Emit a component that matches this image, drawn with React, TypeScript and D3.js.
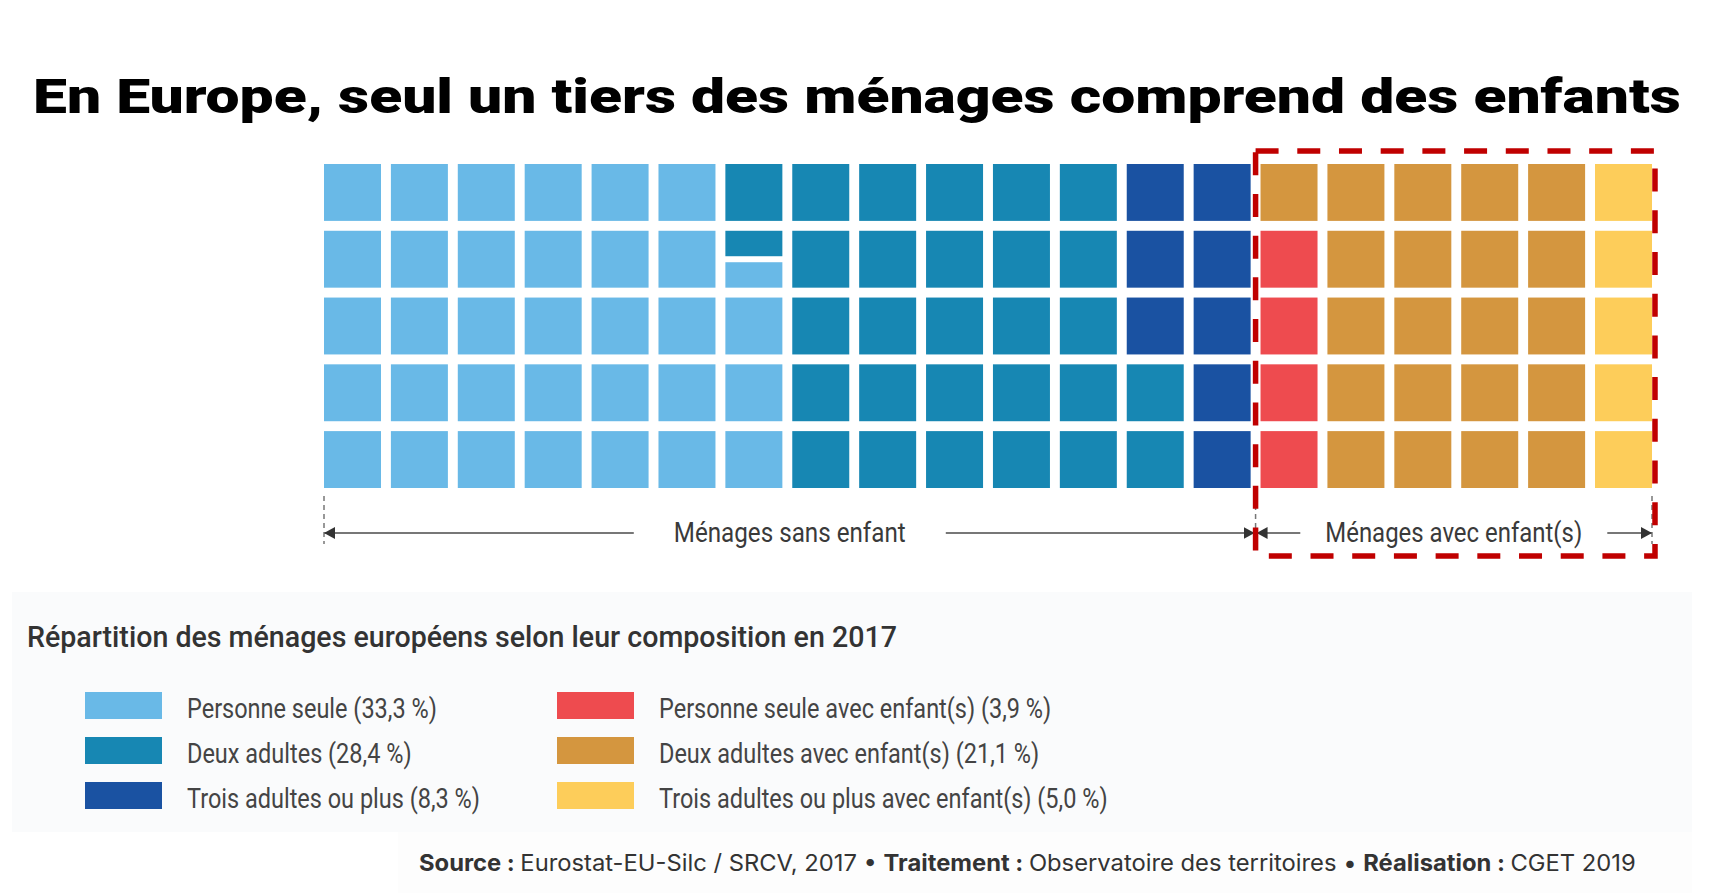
import { useEffect, useRef } from 'react';
import * as d3 from 'd3';

const W = 1717;
const H = 893;

const title = 'En Europe, seul un tiers des ménages comprend des enfants';
const subtitle = 'Répartition des ménages européens selon leur composition en 2017';

const categories = [
  'Personne seule',
  'Deux adultes',
  'Trois adultes ou plus',
  'Personne seule avec enfant(s)',
  'Deux adultes avec enfant(s)',
  'Trois adultes ou plus avec enfant(s)',
];
const shares = [33.3, 28.4, 8.3, 3.9, 21.1, 5.0];
// squares given to each category in the 100-square waffle, as drawn
const squares = [33.5, 28.5, 8, 4, 21, 5];
const palette = ['#69b9e7', '#1787b3', '#1a52a2', '#ee4b4f', '#d4963f', '#fdcd5a'];

const groupLabels = ['Ménages sans enfant', 'Ménages avec enfant(s)'];
const groupSizes = [3, 3]; // number of categories in each group

const sourceParts: [string, boolean][] = [
  ['Source : ', true],
  ['Eurostat-EU-Silc / SRCV, 2017 • ', false],
  ['Traitement : ', true],
  ['Observatoire des territoires • ', false],
  ['Réalisation : ', true],
  ['CGET 2019', false],
];

const COLS = 20;
const ROWS = 5;

const fmt = (v: number) => v.toFixed(1).replace('.', ',');

export default function App() {
  const svgRef = useRef<SVGSVGElement>(null);

  useEffect(() => {
    if (!svgRef.current) return;
    const svg = d3.select(svgRef.current);
    svg.selectAll('*').remove();

    // squash a text horizontally so it spans the given width
    const fit = (t: d3.Selection<SVGTextElement, unknown, null, undefined>, x: number, y: number, width: number) => {
      const len = t.node()!.getComputedTextLength();
      t.attr('x', 0).attr('y', 0).attr('transform', `translate(${x},${y}) scale(${width / len},1)`);
      return width / len;
    };

    // faint panels behind the legend and the source line
    svg.append('rect').attr('x', 12).attr('y', 592).attr('width', 1680).attr('height', 240).attr('fill', '#fafbfc');
    svg.append('rect').attr('x', 398).attr('y', 832).attr('width', 1294).attr('height', 61).attr('fill', '#fdfdfd');

    // Title
    const tt = svg
      .append('text')
      .attr('font-family', 'Roboto, "DejaVu Sans", sans-serif')
      .attr('font-weight', 900)
      .attr('font-size', 49)
      .attr('fill', '#000')
      .text(title);
    fit(tt, 33, 113, 1648);

    // Waffle scales
    const x = d3.scaleBand<number>().domain(d3.range(COLS)).range([324, 1652]).paddingInner(0.148);
    const y = d3.scaleBand<number>().domain(d3.range(ROWS)).range([164, 488]).paddingInner(0.148);
    const bw = x.bandwidth();
    const bh = y.bandwidth();

    type Piece = { col: number; row: number; lo: number; hi: number; cat: number };
    const pieces: Piece[] = [];
    let start = 0;
    squares.forEach((n, cat) => {
      const end = start + n;
      for (let i = Math.floor(start); i < Math.ceil(end - 1e-9); i++) {
        const lo = Math.max(start, i) - i;
        const hi = Math.min(end, i + 1) - i;
        pieces.push({ col: Math.floor(i / ROWS), row: ROWS - 1 - (i % ROWS), lo, hi, cat });
      }
      start = end;
    });

    const inset = 3;
    svg
      .append('g')
      .selectAll('rect')
      .data(pieces)
      .join('rect')
      .attr('x', (d) => x(d.col)!)
      .attr('width', bw)
      .attr('y', (d) => y(d.row)! + bh * (1 - d.hi) + (d.hi < 1 ? inset : 0))
      .attr('height', (d) => bh * (d.hi - d.lo) - (d.hi < 1 ? inset : 0) - (d.lo > 0 ? inset : 0))
      .attr('fill', (d) => palette[d.cat]);

    // Group brackets
    const lineY = 533;
    const defs = svg.append('defs');
    defs
      .append('marker')
      .attr('id', 'arr')
      .attr('viewBox', '0 0 10 10')
      .attr('refX', 10)
      .attr('refY', 5)
      .attr('markerWidth', 11)
      .attr('markerHeight', 12)
      .attr('markerUnits', 'userSpaceOnUse')
      .attr('preserveAspectRatio', 'none')
      .attr('orient', 'auto-start-reverse')
      .append('path')
      .attr('d', 'M0,0L10,5L0,10Z')
      .attr('fill', '#333');

    const groupCols: number[] = [];
    let catIdx = 0;
    groupSizes.forEach((g) => {
      const total = d3.sum(squares.slice(catIdx, catIdx + g));
      groupCols.push(total / ROWS);
      catIdx += g;
    });
    const edges: number[] = [x(0)!];
    let c0 = 0;
    groupCols.forEach((gc, i) => {
      c0 += gc;
      if (i === groupCols.length - 1) edges.push(x(c0 - 1)! + bw);
      else edges.push((x(c0 - 1)! + bw + x(c0)!) / 2);
    });

    edges.forEach((ex) => {
      svg
        .append('line')
        .attr('x1', ex)
        .attr('x2', ex)
        .attr('y1', 496)
        .attr('y2', 544)
        .attr('stroke', '#777')
        .attr('stroke-width', 1.5)
        .attr('stroke-dasharray', '5 4');
    });

    const labelWidths = [232, 257];
    const labelPads = [40, 25];
    groupLabels.forEach((lab, i) => {
      const a = edges[i] + (i > 0 ? 1 : 0);
      const b = edges[i + 1] - (i === 0 ? 1 : 0);
      const mid = (edges[i] + edges[i + 1]) / 2;
      const half = labelWidths[i] / 2 + labelPads[i];
      const t = svg
        .append('text')
        .attr('font-family', 'Roboto, sans-serif')
        .attr('font-size', 28)
        .attr('fill', '#3a3a3a')
        .text(lab);
      fit(t, mid - labelWidths[i] / 2, lineY + 9, labelWidths[i]);
      svg
        .append('line')
        .attr('x1', a)
        .attr('x2', mid - half)
        .attr('y1', lineY)
        .attr('y2', lineY)
        .attr('stroke', '#777')
        .attr('stroke-width', 2)
        .attr('marker-start', 'url(#arr)');
      svg
        .append('line')
        .attr('x1', mid + half)
        .attr('x2', b)
        .attr('y1', lineY)
        .attr('y2', lineY)
        .attr('stroke', '#777')
        .attr('stroke-width', 2)
        .attr('marker-end', 'url(#arr)');
    });

    // Highlight box around households with children
    svg
      .append('rect')
      .attr('x', edges[1])
      .attr('y', 151)
      .attr('width', 1655 - edges[1])
      .attr('height', 556 - 151)
      .attr('fill', 'none')
      .attr('stroke', '#c00000')
      .attr('stroke-width', 5.5)
      .attr('stroke-dasharray', '23 18.7');

    // Subtitle
    const st = svg
      .append('text')
      .attr('font-family', 'Roboto, sans-serif')
      .attr('font-weight', 500)
      .attr('font-size', 30)
      .attr('fill', '#333')
      .text(subtitle);
    fit(st, 27, 647, 870);

    // Legend
    const legend = svg.append('g');
    let k = 0.88;
    categories.forEach((cat, i) => {
      const col = Math.floor(i / 3);
      const row = i % 3;
      const lx = [85, 557][col];
      const ly = 692 + row * 45;
      legend.append('rect').attr('x', lx).attr('y', ly).attr('width', 77).attr('height', 27).attr('fill', palette[i]);
      const t = legend
        .append('text')
        .attr('font-family', 'Roboto, sans-serif')
        .attr('font-size', 27)
        .attr('fill', '#444')
        .text(`${cat} (${fmt(shares[i])} %)`);
      if (i === 0) {
        k = fit(t, lx + 102, ly + 26, 250);
      } else {
        t.attr('transform', `translate(${lx + 102},${ly + 26}) scale(${k},1)`);
      }
    });

    // Source line
    const src = svg
      .append('text')
      .attr('font-family', 'Inter, Roboto, sans-serif')
      .attr('font-size', 23)
      .attr('fill', '#333');
    sourceParts.forEach(([s, bold]) => {
      src
        .append('tspan')
        .attr('font-weight', bold ? 700 : 400)
        .style('white-space', 'pre')
        .text(s);
    });
    src.attr('xml:space', 'preserve');
    fit(src, 419, 871, 1218);
  }, []);

  return (
    <svg
      ref={svgRef}
      width={W}
      height={H}
      style={{ position: 'absolute', left: 0, top: 0, background: '#fff', display: 'block' }}
    />
  );
}
